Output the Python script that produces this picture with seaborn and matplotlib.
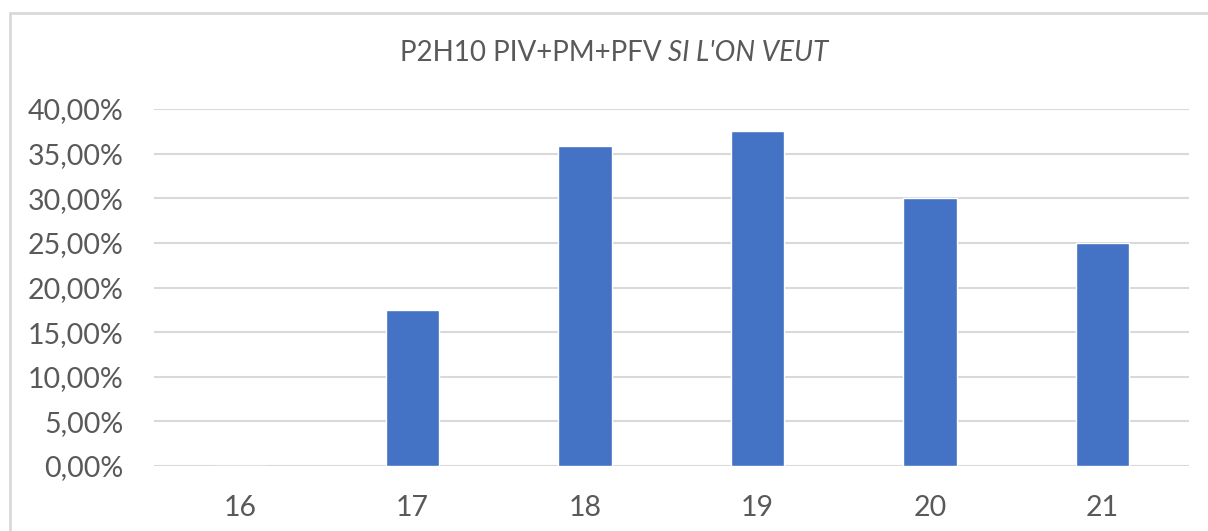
import matplotlib
matplotlib.use("Agg")
import matplotlib.pyplot as plt
import seaborn as sns
import pandas as pd
from matplotlib.lines import Line2D
from matplotlib.ticker import FuncFormatter

# ==========================================================
# Data
# ==========================================================

ages = ["16", "17", "18", "19", "20", "21"]
rates = [0.0, 0.175, 0.358, 0.375, 0.300, 0.250]

title_main = "P2H10 PIV+PM+PFV "
title_italic = "SI L'ON VEUT"

df = pd.DataFrame({"age": ages, "rate": rates})

# ==========================================================
# Plot
# ==========================================================

sns.set_style("white")
plt.rcParams["font.family"] = ["Lato", "DejaVu Sans"]

text_color = "#595959"
grid_color = "#d9d9d9"

fig = plt.figure(figsize=(12.08, 5.31), dpi=100)
ax = fig.add_axes([0.1275, 0.1224, 0.8565, 0.6723])

sns.barplot(
    data=df,
    x="age",
    y="rate",
    color="#4472C4",
    width=0.31,
    saturation=1,
    ax=ax,
)

ax.set_ylim(0, 0.40)
ax.set_yticks([i * 0.05 for i in range(9)])
ax.yaxis.set_major_formatter(
    FuncFormatter(lambda v, p: f"{v * 100:.2f}%".replace(".", ","))
)
ax.set_xlim(-0.5, len(ages) - 0.5)

ax.grid(axis="y", color=grid_color, linewidth=1.5)
ax.set_axisbelow(True)
for side in ["top", "right", "left", "bottom"]:
    ax.spines[side].set_visible(False)

ax.tick_params(axis="y", length=0, pad=22, labelsize=20.5, labelcolor=text_color)
ax.tick_params(axis="x", length=0, pad=21, labelsize=20.5, labelcolor=text_color)
ax.set_xlabel("")
ax.set_ylabel("")

# title: regular part + italic part
t1 = fig.text(0.5, 1 - 53 / 531, title_main, fontsize=20, color=text_color,
              ha="right", va="center")
t2 = fig.text(0.5, 1 - 53 / 531, title_italic, fontsize=20, color=text_color,
              ha="left", va="center", style="italic")
fig.canvas.draw()
r = fig.canvas.get_renderer()
w1 = t1.get_window_extent(r).width
w2 = t2.get_window_extent(r).width
cx = 614
t1.set_x((cx - (w1 + w2) / 2 + w1) / 1208)
t2.set_x((cx - (w1 + w2) / 2 + w1) / 1208)

# chart area border (cut at right and bottom)
fig.add_artist(Line2D([9.5 / 1208, 9.5 / 1208], [0, 1 - 13 / 531],
                      color=grid_color, linewidth=2))
fig.add_artist(Line2D([9.5 / 1208, 1], [1 - 13 / 531, 1 - 13 / 531],
                      color=grid_color, linewidth=2))

plt.savefig("out.png", dpi=100)
